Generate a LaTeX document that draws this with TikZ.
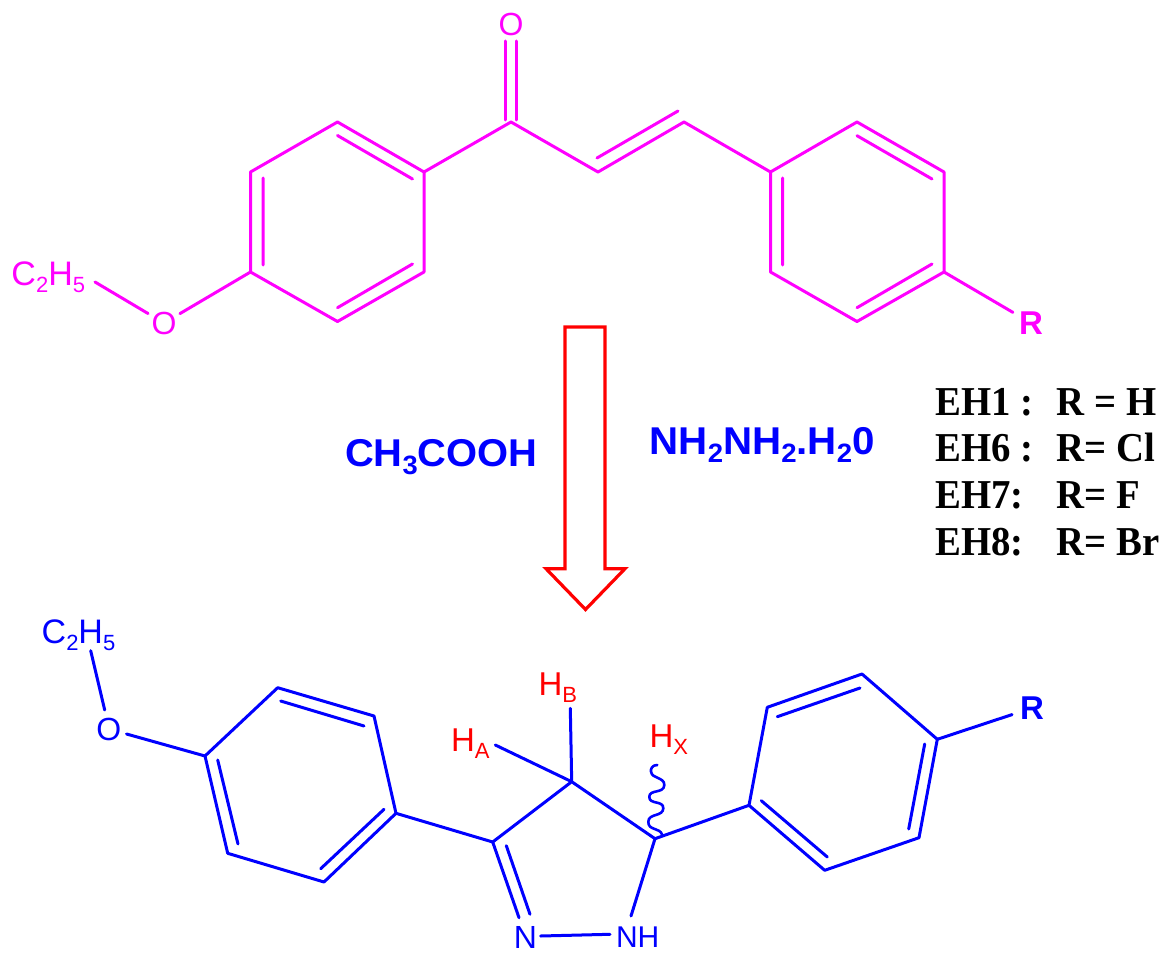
\documentclass[tikz,border=0pt]{standalone}
\usepackage{fontspec}
\setmainfont{Liberation Sans}
\newfontfamily\timesbf{Liberation Serif}[BoldFont={Liberation Serif Bold}]
\newcommand\fsz[1]{\fontsize{#1}{#1}\selectfont}
\newcommand\sbs[3]{\raisebox{-#1pt}{\fsz{#2}#3}}
\tikzset{
  bond/.style={line width=3pt,line cap=round,line join=round},
  magbond/.style={bond,draw=magenta1},
  blubond/.style={bond,draw=blue1},
  atomlabel/.style={inner sep=0pt,outer sep=0pt,font=\fsz{32}},
  atomcirc/.style={atomlabel,circle,minimum size=#1},
  reslabel/.style={atomcirc=#1,font=\fsz{33}\bfseries},
  txtlabel/.style={inner sep=0pt,outer sep=0pt,anchor=base west},
  reagent/.style={txtlabel,text=blue1,font=\fsz{38}\bfseries},
  rowlabel/.style={txtlabel,text=black,font=\timesbf\fsz{38}\bfseries},
  redarrow/.style={draw=red1,line width=3.2pt,line join=miter,fill=white}
}
\definecolor{magenta1}{RGB}{255,0,255}
\definecolor{blue1}{RGB}{0,0,255}
\definecolor{red1}{RGB}{255,0,0}
\newcommand\tallrow[2]{\scalebox{1.02}[1.08]{\makebox[119pt][l]{#1}#2}}
\begin{document}
\begin{tikzpicture}[x=1pt,y=-1pt]
\useasboundingbox (0,0) rectangle (1168,963);
% ---- top molecule (magenta)
\coordinate (a1) at (337.5,122);
\coordinate (a2) at (424,172);
\coordinate (a3) at (424,272);
\coordinate (a4) at (337.5,321.5);
\coordinate (a5) at (250.5,272);
\coordinate (a6) at (250.5,172);
\coordinate (a1i) at (337.5,135.5);
\coordinate (a2i) at (412.5,179);
\coordinate (a3i) at (412.5,264);
\coordinate (a4i) at (337.5,307.7);
\coordinate (a5i) at (263,265);
\coordinate (a6i) at (263,178);
\coordinate (co) at (511,122);
\coordinate (ch1) at (598,172);
\coordinate (ch2) at (684,122);
\coordinate (ch1i) at (597,158);
\coordinate (ch2i) at (678,111);
\coordinate (ol) at (505,41);
\coordinate (olb) at (505,120);
\coordinate (or) at (516.6,41);
\coordinate (orb) at (516.6,120);
\coordinate (b1) at (770.5,172);
\coordinate (b2) at (857,122);
\coordinate (b3) at (944,172);
\coordinate (b4) at (944,272);
\coordinate (b5) at (857,321.5);
\coordinate (b6) at (770.5,272);
\coordinate (b1i) at (782.6,178);
\coordinate (b6i) at (782.6,265);
\coordinate (b2i) at (857,135.7);
\coordinate (b3i) at (932,179);
\coordinate (b4i) at (932,264);
\coordinate (b5i) at (857,307.7);
\node[atomcirc=37pt,text=magenta1] (mo) at (164,323) {O};
\node[atomlabel,anchor=center,text=magenta1] (mco) at (511,24) {O};
\node[reslabel=42pt,text=magenta1] (mr) at (1031,323) {R};
\node[txtlabel,text=magenta1,font=\fsz{34}] (met) at (11.5,285) {C\sbs{7}{22}{2}H\sbs{7}{22}{5}};
\coordinate (metend) at (95,282);
\draw[magbond] (a1)--(a2)--(a3)--(a4)--(a5)--(a6)--cycle;
\draw[magbond] (a1i)--(a2i) (a3i)--(a4i) (a5i)--(a6i);
\draw[magbond] (a2)--(co)--(ch1)--(ch2)--(b1)--(b2)--(b3)--(b4)--(b5)--(b6)--(b1);
\draw[magbond] (ch1i)--(ch2i) (b1i)--(b6i) (b2i)--(b3i) (b4i)--(b5i);
\draw[magbond] (ol)--(olb) (or)--(orb);
\draw[magbond] (a5)--(mo);
\draw[magbond] (mo)--(metend);
\draw[magbond] (b4)--(mr);
% ---- arrow
\draw[redarrow] (565,327)--(605,327)--(605,568.7)--(625,568.7)--(585.5,609.5)--(546,568.7)--(565,568.7)--cycle;
% ---- reagents
\node[reagent] (acid) at (345,466) {\scalebox{1.05}[1.02]{CH\sbs{8}{26}{3}COOH}};
\node[reagent] (hyd) at (649.6,454) {\scalebox{1.06}[1.02]{NH\sbs{8}{26}{2}NH\sbs{8}{26}{2}.H\sbs{8}{26}{2}0}};
% ---- table
\node[rowlabel] (r1) at (935.6,415) {\tallrow{EH1 :}{R = H}};
\node[rowlabel] (r2) at (935.6,461.7) {\tallrow{EH6 :}{R= Cl}};
\node[rowlabel] (r3) at (935.6,508) {\tallrow{EH7:}{R= F}};
\node[rowlabel] (r4) at (935.6,555) {\tallrow{EH8:}{R= Br}};
% ---- bottom molecule (blue)
\coordinate (c1) at (205,756);
\coordinate (c2) at (277.7,687.7);
\coordinate (c3) at (374,716);
\coordinate (c4) at (396,813.3);
\coordinate (c5) at (324,882);
\coordinate (c6) at (227.7,853.3);
\coordinate (c2i) at (280.7,701);
\coordinate (c3i) at (364,726);
\coordinate (c1i) at (217.7,760);
\coordinate (c6i) at (238,844);
\coordinate (c4i) at (384,809.3);
\coordinate (c5i) at (320.7,868.7);
\coordinate (p3) at (492.7,842);
\coordinate (p4) at (571.7,781.7);
\coordinate (p5) at (655,838.7);
\coordinate (ha) at (495.3,745);
\coordinate (hb) at (570.3,708.3);
\coordinate (nd) at (519,917.7);
\coordinate (p3i) at (506.3,845.7);
\coordinate (ndi) at (530,914.3);
\coordinate (nhend) at (631,916);
\coordinate (nnl) at (540.7,936);
\coordinate (nnr) at (610,934.3);
\coordinate (d1) at (749,805.3);
\coordinate (d2) at (767.3,707.3);
\coordinate (d3) at (862,674);
\coordinate (d4) at (937.3,739.3);
\coordinate (d5) at (919,837.7);
\coordinate (d6) at (824.7,870.3);
\coordinate (d2i) at (777.3,716.7);
\coordinate (d3i) at (860,688);
\coordinate (d4i) at (924.7,744);
\coordinate (d5i) at (908.7,829);
\coordinate (d1i) at (761.3,800.7);
\coordinate (d6i) at (827.3,857);
\coordinate (betend) at (90.7,650.7);
\coordinate (boend) at (104.7,710);
\node[atomcirc=37pt,text=blue1] (bo) at (108.7,729) {O};
\node[txtlabel,text=blue1,font=\fsz{34}] (bet) at (41.7,643) {C\sbs{7}{22}{2}H\sbs{7}{22}{5}};
\node[reslabel=42pt,text=blue1] (br) at (1032,708) {R};
\node[atomlabel,anchor=base,text=blue1] (bn) at (525.3,948) {N};
\node[txtlabel,text=blue1,font=\fsz{30}] (bnh) at (616,947) {NH};
\node[txtlabel,text=red1,font=\fsz{33}] (lha) at (451,751) {H\sbs{7}{22}{A}};
\node[txtlabel,text=red1,font=\fsz{33}] (lhb) at (538.5,695) {H\sbs{7}{22}{B}};
\node[txtlabel,text=red1,font=\fsz{33}] (lhx) at (649.5,747) {H\sbs{7}{22}{X}};
\draw[blubond] (c1)--(c2)--(c3)--(c4)--(c5)--(c6)--cycle;
\draw[blubond] (c2i)--(c3i) (c1i)--(c6i) (c4i)--(c5i);
\draw[blubond] (bo)--(c1);
\draw[blubond] (betend)--(boend);
\draw[blubond] (c4)--(p3)--(p4)--(p5);
\draw[blubond] (p3)--(nd) (p3i)--(ndi);
\draw[blubond] (p4)--(ha) (p4)--(hb);
\draw[blubond] (p5)--(nhend);
\draw[blubond] (nnl)--(nnr);
\draw[blubond] (p5)--(d1)--(d2)--(d3)--(d4)--(d5)--(d6)--(d1);
\draw[blubond] (d2i)--(d3i) (d4i)--(d5i) (d1i)--(d6i);
\draw[blubond] (d4)--(br);
\draw[blubond,line width=2.6pt] (657.3,765) .. controls (652,765) and (650.5,769) .. (651,771.7)
  .. controls (652,779) and (664.5,777) .. (664.3,785)
  .. controls (664,794) and (649.5,789) .. (649.3,796.7)
  .. controls (649,805) and (663.5,800) .. (663.3,808.3)
  .. controls (663,817) and (648.5,813) .. (648.3,821.7)
  .. controls (648,831) and (660,827) .. (662.3,835);
\end{tikzpicture}
\end{document}
